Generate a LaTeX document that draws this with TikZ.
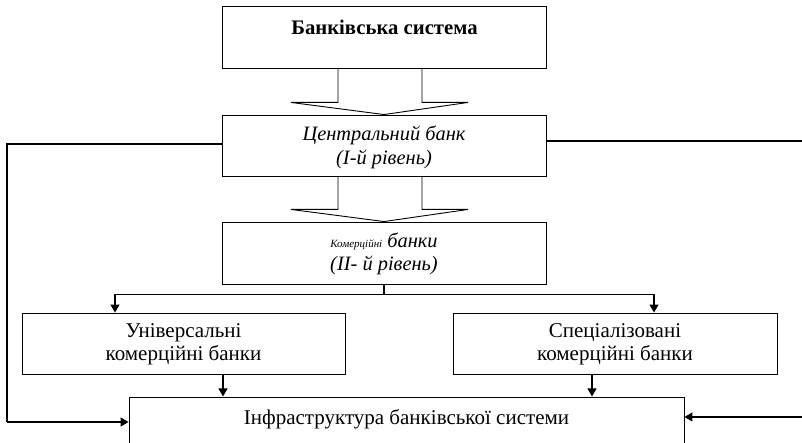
\documentclass[tikz,border=0pt]{standalone}
\usepackage{fontspec}
\setmainfont{Liberation Serif}
\usetikzlibrary{arrows.meta,calc}
\tikzset{
  box/.style={draw=black, line width=0.9pt, rectangle, inner sep=0pt},
  lbl/.style={align=center, inner sep=0pt, font=\fontsize{21}{22.5}\selectfont},
  link/.style={draw=black, line width=1.2pt},
  arr/.style={link, -{Triangle[length=8pt,width=9pt]}},
  blockarrow/.style={draw=black, line width=0.9pt, line join=miter}
}
\begin{document}
\begin{tikzpicture}[x=1pt,y=-1pt]
  \clip (0,0) rectangle (802,443);
  \useasboundingbox (0,0) rectangle (802,443);

  % boxes
  \node[box, minimum width=324pt, minimum height=62pt] (sys) at (384,37) {};
  \node[box, minimum width=324pt, minimum height=61pt] (cb)  at (384,145.5) {};
  \node[box, minimum width=324pt, minimum height=62pt] (kb)  at (384,253) {};
  \node[box, minimum width=323pt, minimum height=61pt] (ub)  at (183.5,343.5) {};
  \node[box, minimum width=324pt, minimum height=61pt] (sb)  at (615,343.5) {};
  \node[box, minimum width=555pt, minimum height=70pt] (inf) at (406.5,432) {};

  % texts
  \node[lbl, font=\fontsize{20.7}{23}\selectfont\bfseries] (tsys) at (384.5,27) {Банківська система};
  \node[lbl, font=\fontsize{20.4}{24}\selectfont\itshape] (tcb) at ($(cb.center)+(0,2)$) {Центральний банк\\(І-й рівень)};
  \node[lbl, font=\fontsize{20.4}{23.5}\selectfont\itshape] (tkb) at ($(kb.center)+(0,1)$)
    {{\fontsize{11}{13}\selectfont Комерційні} банки\\(ІІ- й рівень)};
  \node[lbl] (tub) at ($(ub.center)+(0,1)$) {Універсальні\\комерційні банки};
  \node[lbl] (tsb) at ($(sb.center)+(0,1)$) {Спеціалізовані\\комерційні банки};
  \node[lbl] (tinf) at (406.5,419.5) {Інфраструктура банківської системи};

  % block arrows between the levels
  \draw[blockarrow] ($(sys.south)+(-46,0)$) -- ++(0,34) -- ++(-47,0)
    -- (cb.north) -- ($(sys.south)+(84,34)$) -- ++(-46,0) -- ($(sys.south)+(38,0)$);
  \draw[blockarrow] ($(cb.south)+(-46,0)$) -- ++(0,33) -- ++(-47,0)
    -- (kb.north) -- ($(cb.south)+(84,33)$) -- ++(-46,0) -- ($(cb.south)+(38,0)$);

  % branching from commercial banks
  \coordinate (split) at ($(kb.south)+(0,10)$);
  \draw[link] (kb.south) -- (split);
  \draw[arr] (split) -| ($(ub.north)+(-68.5,0)$);
  \draw[arr] (split) -| ($(sb.north)+(39,0)$);

  % into infrastructure
  \draw[arr] ($(ub.south)+(39.5,0)$) -- ++(0,22);
  \draw[arr] ($(sb.south)+(-23,0)$) -- ++(0,22);

  % side links
  \coordinate (lturn) at (7,144);
  \draw[link] ($(cb.west)+(0,-1.5)$) -- (lturn) -- (7,422);
  \draw[arr] (7,422) -- (inf.west |- 0,422);
  \coordinate (rend) at (802,141);
  \draw[link] ($(cb.east)+(0,-4.5)$) -- (rend);
  \coordinate (rin) at (802,417);
  \draw[arr] (rin) -- (inf.east |- rin);
\end{tikzpicture}
\end{document}
